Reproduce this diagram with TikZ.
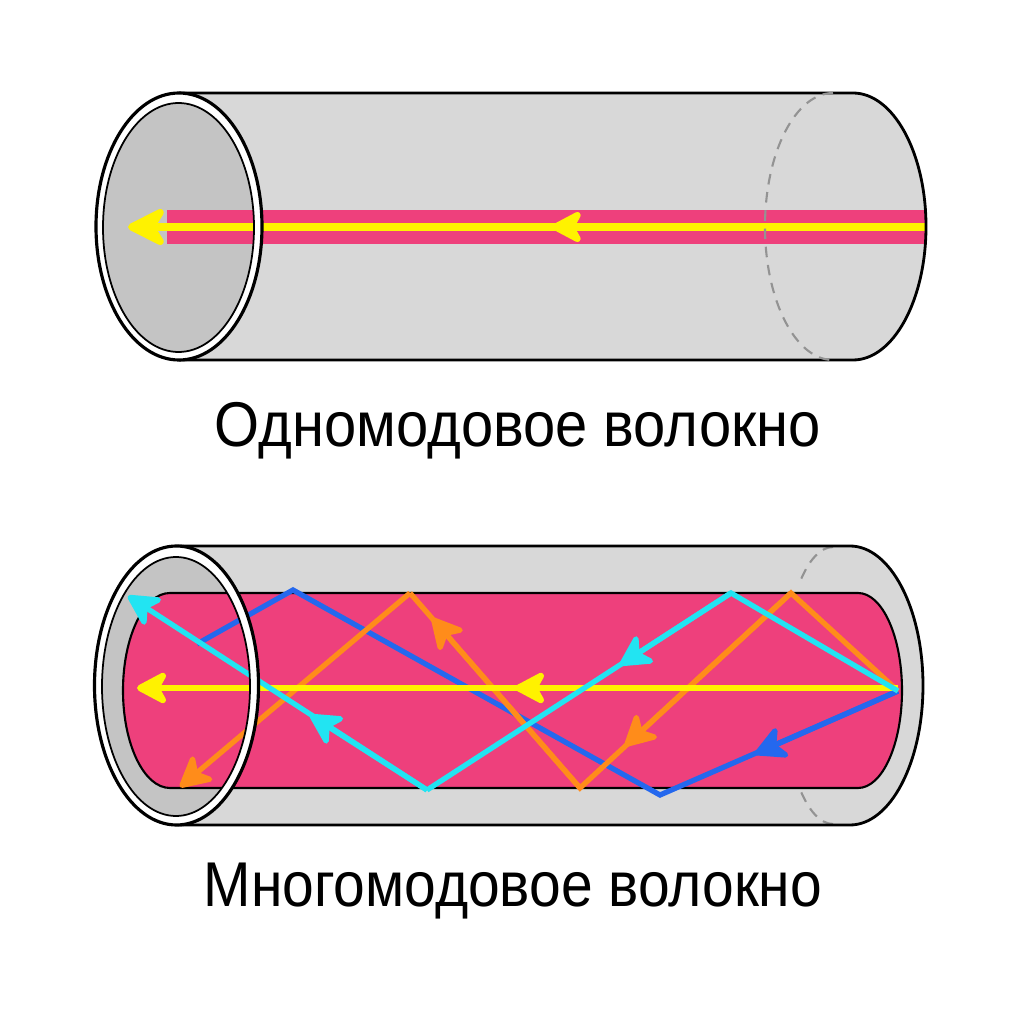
\documentclass[tikz,border=0pt]{standalone}
\usepackage{fontspec}
\setmainfont[FakeStretch=.915]{Liberation Sans}
\usetikzlibrary{arrows.meta}

\definecolor{bodygray}{HTML}{D8D8D8}
\definecolor{facegray}{HTML}{C4C4C4}
\definecolor{corepink}{HTML}{EE407C}
\definecolor{rayyellow}{HTML}{FFF200}
\definecolor{raycyan}{HTML}{22E4F2}
\definecolor{rayblue}{HTML}{2468EE}
\definecolor{rayorange}{HTML}{FF8C1A}

\tikzset{
  shell/.style={draw=black,line width=.8pt,line join=round},
  hidden/.style={draw=gray!85,line width=.6pt,dash pattern=on 3pt off 2.2pt},
  ray/.style={line width=1.5pt,line join=miter},
  headed/.style={-{Stealth[length=10.5pt,width=11pt,inset=3pt,round]}},
  bighead/.style={-{Stealth[length=13pt,width=13pt,inset=4pt,round]}},
  caption/.style={font=\fontsize{18}{20}\selectfont,inner sep=0pt},
}

\begin{document}
\begin{tikzpicture}
  \useasboundingbox (0,0) rectangle (10.24,10.24);
  \fill[white] (0,0) rectangle (10.24,10.24);

  % single mode fibre
  \fill[bodygray] (1.79,9.31) -- (8.53,9.31) arc[start angle=90,end angle=-90,x radius=.73,y radius=1.335] -- (1.79,6.64) -- cycle;
  \fill[facegray] (1.785,7.965) ellipse[x radius=.755,y radius=1.245];
  \fill[corepink] (1.67,7.80) rectangle (9.25,8.14);
  \draw[rayyellow,line width=2pt] (9.25,7.97) -- (1.60,7.97);
  \draw[rayyellow,line width=2pt,bighead] (1.75,7.97) -- (1.28,7.97);
  \draw[rayyellow,line width=2pt,headed] (5.90,7.97) -- (5.52,7.97);
  \draw[shell] (1.79,9.31) -- (8.53,9.31) arc[start angle=90,end angle=-90,x radius=.73,y radius=1.335] -- (1.79,6.64);
  \draw[hidden] (8.33,9.31) arc[start angle=90,end angle=270,x radius=.68,y radius=1.335];
  \fill[white,even odd rule] (1.79,7.975) ellipse[x radius=.83,y radius=1.335] (1.785,7.965) ellipse[x radius=.755,y radius=1.245];
  \draw[line width=.9pt] (1.79,7.975) ellipse[x radius=.83,y radius=1.335];
  \draw[line width=.5pt] (1.785,7.965) ellipse[x radius=.755,y radius=1.245];
  \node[caption] (singlelabel) at (5.18,5.93) {Одномодовое волокно};

  % multimode fibre
  \fill[bodygray] (1.78,4.78) -- (8.50,4.78) arc[start angle=90,end angle=-90,x radius=.73,y radius=1.395] -- (1.78,1.99) -- cycle;
  \fill[facegray] (1.76,3.375) ellipse[x radius=.74,y radius=1.295];
  \draw[hidden] (8.33,4.77) arc[start angle=90,end angle=132,x radius=.50,y radius=1.395];
  \draw[hidden] (8.33,2.00) arc[start angle=270,end angle=228,x radius=.50,y radius=1.395];
  \draw[shell,fill=corepink,line width=.6pt] (1.70,4.31) -- (8.58,4.31) arc[start angle=90,end angle=-90,x radius=.44,y radius=.975] -- (1.70,2.36) arc[start angle=270,end angle=90,x radius=.47,y radius=.975] -- cycle;
  \draw[shell] (1.78,4.78) -- (8.50,4.78) arc[start angle=90,end angle=-90,x radius=.73,y radius=1.395] -- (1.78,1.99);

  % points where the rays turn
  \coordinate (source) at (8.98,3.33);
  \coordinate (blueA) at (6.60,2.29);
  \coordinate (blueB) at (2.93,4.34);
  \coordinate (blueC) at (1.97,3.80);
  \coordinate (blueTip) at (7.55,2.70);
  \coordinate (orangeA) at (7.91,4.31);
  \coordinate (orangeB) at (5.80,2.36);
  \coordinate (orangeC) at (4.10,4.31);
  \coordinate (orangeD) at (1.80,2.37);
  \coordinate (orangeTipA) at (6.25,2.78);
  \coordinate (orangeTipB) at (4.32,4.06);
  \coordinate (cyanA) at (7.31,4.31);
  \coordinate (cyanB) at (4.27,2.34);
  \coordinate (cyanC) at (1.28,4.28);
  \coordinate (cyanTipA) at (6.20,3.59);
  \coordinate (cyanTipB) at (3.10,3.09);

  \draw[ray,rayblue] (source) -- (blueA) -- (blueB) -- (blueC);
  \draw[ray,rayblue,headed] (source) -- (blueTip);
  \draw[ray,rayorange] (source) -- (orangeA) -- (orangeB) -- (orangeC);
  \draw[ray,rayorange,headed] (orangeC) -- (orangeD);
  \draw[ray,rayorange,headed] (orangeA) -- (orangeTipA);
  \draw[ray,rayorange,headed] (orangeB) -- (orangeTipB);
  \draw[rayyellow,line width=1.8pt,headed] (8.98,3.36) -- (1.37,3.36);
  \draw[rayyellow,line width=1.8pt,headed] (6.00,3.36) -- (5.15,3.36);
  \draw[ray,raycyan] (source) -- (cyanA) -- (cyanB);
  \draw[ray,raycyan,headed] (cyanB) -- (cyanC);
  \draw[ray,raycyan,headed] (cyanA) -- (cyanTipA);
  \draw[ray,raycyan,headed] (cyanB) -- (cyanTipB);

  \fill[white,even odd rule] (1.765,3.385) ellipse[x radius=.82,y radius=1.395] (1.76,3.375) ellipse[x radius=.74,y radius=1.295];
  \draw[line width=.9pt] (1.765,3.385) ellipse[x radius=.82,y radius=1.395];
  \draw[line width=.5pt] (1.76,3.375) ellipse[x radius=.74,y radius=1.295];
  \node[caption] (multilabel) at (5.13,1.33) {\addfontfeature{FakeStretch=.9}Многомодовое волокно};
\end{tikzpicture}
\end{document}
